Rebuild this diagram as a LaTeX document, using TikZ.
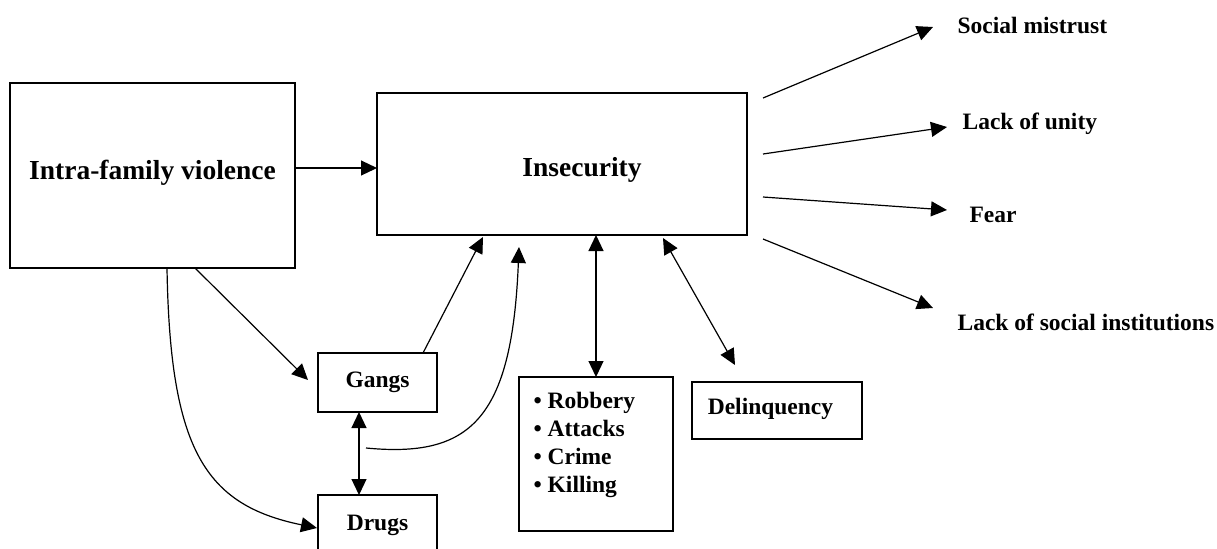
\documentclass[tikz,border=0pt]{standalone}
\usepackage{fontspec}
\setmainfont{Liberation Serif}
\usetikzlibrary{arrows.meta,calc}
\begin{document}
\begin{tikzpicture}[x=0.5pt,y=-0.5pt,
  line width=0.6pt,
  box/.style={draw,line width=0.7pt,inner sep=0pt,outer sep=0pt},
  txt/.style={inner sep=0pt,font=\bfseries\fontsize{11.75pt}{14pt}\selectfont},
  bigtxt/.style={inner sep=0pt,font=\bfseries\fontsize{13.75pt}{16pt}\selectfont},
  lbl/.style={txt,anchor=west},
  arr/.style={-{Triangle[length=8pt,width=7.5pt]}},
  darr/.style={{Triangle[length=8pt,width=7.5pt]}-{Triangle[length=8pt,width=7.5pt]}}]
\clip (0,0) rectangle (1217,548);
\fill[white] (0,0) rectangle (1217,548);
% boxes
\node[box,minimum width=142.5pt,minimum height=92.5pt] (ifv) at (152.5,175.5) {};
\node[bigtxt] (ifvtext) at ($(ifv.center)+(0,-3)$) {Intra-family violence};
\node[box,minimum width=185pt,minimum height=71pt] (ins) at (562,164) {};
\node[bigtxt] (instext) at ($(ins.center)+(20,6)$) {Insecurity};
\node[box,txt,minimum width=59.5pt,minimum height=29.5pt] (gangs) at (377.5,382.5) {Gangs};
\node[box,txt,minimum width=59.5pt,minimum height=30pt] (drugs) at (377.5,525) {Drugs};
\node[box,minimum width=77pt,minimum height=77pt] (rob) at (596,454) {};
\node[txt,anchor=north west,align=left] (robtext) at (533,392)
  {\textbullet\ Robbery\\ \textbullet\ Attacks\\ \textbullet\ Crime\\ \textbullet\ Killing};
\node[box,minimum width=85pt,minimum height=28.5pt] (del) at (777,410.5) {};
\node[txt] (deltext) at ($(del.center)+(-6.5,-2)$) {Delinquency};
% right labels
\node[lbl] (sm) at (957,25) {Social mistrust};
\node[lbl] (lu) at (962,124) {Lack of unity};
\node[lbl] (fear) at (969,215) {Fear};
\node[lbl] (lsi) at (957,322) {Lack of social institutions};
% coordinates for free ends
\coordinate (s1) at ($(ins.east)+(16,-66)$);
\coordinate (s2) at ($(ins.east)+(16,-10)$);
\coordinate (s3) at ($(ins.east)+(16,33)$);
\coordinate (s4) at ($(ins.east)+(16,75)$);
\coordinate (t1) at ($(sm.west)+(-24,2)$);
\coordinate (t2) at ($(lu.west)+(-15,3)$);
\coordinate (t3) at ($(fear.west)+(-22,-5)$);
\coordinate (t4) at ($(lsi.west)+(-24,-14)$);
\coordinate (c0) at ($(gangs.south)+(-11.5,36)$);
% connectors
\draw[arr] ($(ifv.east)+(0,-7.5)$) -- ($(ins.west)+(0,4)$);
\draw[arr] ($(ifv.south)+(42.5,0)$) -- ($(gangs.west)+(-10,-2.5)$);
\draw[arr] ($(ifv.south)+(14.5,0)$) .. controls (170,450) and (205,505) .. ($(drugs.west)+(-1,3)$);
\draw[arr] ($(gangs.north)+(45.5,0)$) -- ($(ins.south)+(-79,2)$);
\draw[arr] (c0) .. controls (470,458) and (512,420) .. ($(ins.south)+(-43,12)$);
\draw[darr] ($(gangs.south)+(-18.5,0)$) -- ($(drugs.north)+(-18.5,0)$);
\draw[darr] (rob.north) -- (rob.north |- ins.south);
\draw[darr] ($(ins.south)+(101,3)$) -- ($(del.north)+(-42,-17)$);
\draw[arr] (s1) -- (t1);
\draw[arr] (s2) -- (t2);
\draw[arr] (s3) -- (t3);
\draw[arr] (s4) -- (t4);
\end{tikzpicture}
\end{document}
